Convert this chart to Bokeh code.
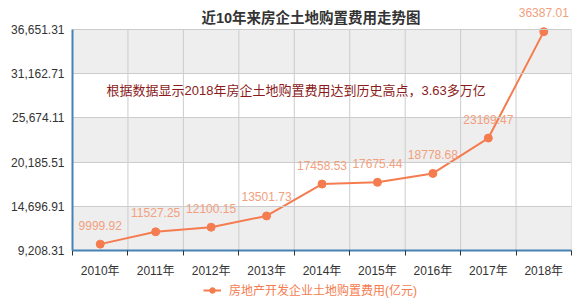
from bokeh.plotting import figure
from bokeh.layouts import column
from bokeh.models import (Range1d, FixedTicker, NumeralTickFormatter, ColumnDataSource,
                          LabelSet, Label, Legend, LegendItem)
from bokeh.core.properties import value
from bokeh.embed import file_html
from bokeh.resources import INLINE

years = ["2010年", "2011年", "2012年", "2013年", "2014年", "2015年", "2016年", "2017年", "2018年"]
values = [9999.92, 11527.25, 12100.15, 13501.73, 17458.53, 17675.44, 18778.68, 23169.47, 36387.01]
value_labels = ["9999.92", "11527.25", "12100.15", "13501.73", "17458.53", "17675.44", "18778.68", "23169.47", "36387.01"]
y_ticks = [9208.31, 14696.91, 20185.51, 25674.11, 31162.71, 36651.31]
title_text = "近10年来房企土地购置费用走势图"
note_text = "根据数据显示2018年房企土地购置费用达到历史高点，3.63多万亿"
series_name = "房地产开发企业土地购置费用(亿元)"

FONT = "Liberation Sans, Noto Sans CJK SC"
LINE_C = "#f57c4f"
LABEL_C = "#f2a07e"
GRID_C = "#cccccc"

n = len(years)
xs = [i + 0.5 for i in range(n)]
bounds = list(range(n + 1))

PLOT_H = 221.0
HEAD = 29.0
span = y_ticks[-1] - y_ticks[0]
y_top = y_ticks[-1] + HEAD / PLOT_H * span

p = figure(width=583, height=280, output_backend="svg", toolbar_location=None,
           x_range=Range1d(0, n), y_range=Range1d(y_ticks[0], y_top),
           min_border_left=72, min_border_right=12, min_border_top=0, min_border_bottom=25)
p.background_fill_color = "white"
p.border_fill_color = "white"
p.outline_line_color = None

p.quad(left=[bounds[0]] * 3, right=[bounds[-1]] * 3,
       bottom=y_ticks[0::2], top=y_ticks[1::2],
       fill_color="#eeeeee", line_color=None)

p.xgrid.visible = False
p.segment(x0=bounds, x1=bounds, y0=[y_ticks[0]] * len(bounds), y1=[y_ticks[-1]] * len(bounds),
          line_color=GRID_C, line_width=1)
p.ygrid.ticker = FixedTicker(ticks=y_ticks)
p.ygrid.grid_line_color = GRID_C
p.ygrid.level = "glyph"

p.xaxis.ticker = FixedTicker(ticks=xs, minor_ticks=bounds)
p.xaxis.major_label_overrides = {x: y for x, y in zip(xs, years)}
p.xaxis.major_tick_out = 0
p.xaxis.major_tick_in = 0
p.xaxis.minor_tick_out = 5
p.xaxis.minor_tick_in = 0
p.xaxis.minor_tick_line_color = "#333333"
p.xaxis.axis_line_color = "#4682b4"
p.xaxis.axis_line_width = 2
p.xaxis.major_label_standoff = 8
p.xaxis.major_label_text_font = FONT
p.xaxis.major_label_text_font_size = "12px"
p.xaxis.major_label_text_color = "#333333"

p.yaxis.ticker = FixedTicker(ticks=y_ticks)
p.yaxis.bounds = (y_ticks[0], y_ticks[-1])
p.yaxis.formatter = NumeralTickFormatter(format="0,0.00")
p.yaxis.major_tick_out = 0
p.yaxis.major_tick_in = 0
p.yaxis.minor_tick_line_color = None
p.yaxis.axis_line_color = "#4682b4"
p.yaxis.axis_line_width = 2
p.yaxis.major_label_standoff = 8
p.yaxis.major_label_text_font = FONT
p.yaxis.major_label_text_font_size = "12px"
p.yaxis.major_label_text_color = "#333333"

src = ColumnDataSource(dict(x=xs, y=values, lab=value_labels))

labels = LabelSet(x="x", y="y", text="lab", source=src, y_offset=19,
                  text_align="center", text_baseline="middle",
                  text_font=value(FONT), text_font_size=value("12px"), text_color=LABEL_C,
                  level="glyph")
p.add_layout(labels)

ln = p.line("x", "y", source=src, line_color=LINE_C, line_width=2)
sc = p.scatter("x", "y", source=src, size=8, fill_color=LINE_C, line_color=LINE_C)

p.add_layout(Label(x=n / 2, y=y_ticks[-1], x_offset=-11, y_offset=12,
                   text=title_text, text_align="center", text_baseline="middle",
                   text_font=FONT, text_font_size="14.5px", text_font_style="bold",
                   text_color="#333333"))
p.add_layout(Label(x=0, y=y_ticks[-1], x_offset=34, y_offset=-61,
                   text=note_text, text_align="left", text_baseline="middle",
                   text_font=FONT, text_font_size="13px", text_color="#8b1a1a"))

# legend strip below the chart (its frame is aligned with the chart's frame)
p2 = figure(width=583, height=24, output_backend="svg", toolbar_location=None,
            x_range=Range1d(0, 1), y_range=Range1d(0, 1),
            x_axis_type=None, y_axis_type=None, min_border=0)
p2.outline_line_color = None
p2.background_fill_color = "white"
p2.border_fill_color = "white"
p2.xgrid.visible = False
p2.ygrid.visible = False
ln2 = p2.line("x", "y", source=src, line_color=LINE_C, line_width=2)
sc2 = p2.scatter("x", "y", source=src, size=8, fill_color=LINE_C, line_color=LINE_C)
legend = Legend(items=[LegendItem(label=series_name, renderers=[ln2, sc2])],
                location=(131, 6), orientation="horizontal",
                glyph_width=18, glyph_height=14, label_standoff=8,
                padding=0, margin=0, spacing=0, label_height=14,
                label_text_font=FONT, label_text_font_size="12px",
                label_text_color=LINE_C, label_text_baseline="middle",
                background_fill_alpha=0, border_line_alpha=0)
p2.add_layout(legend)

open("out.html", "w").write(file_html(column(p, p2, spacing=0), INLINE))
